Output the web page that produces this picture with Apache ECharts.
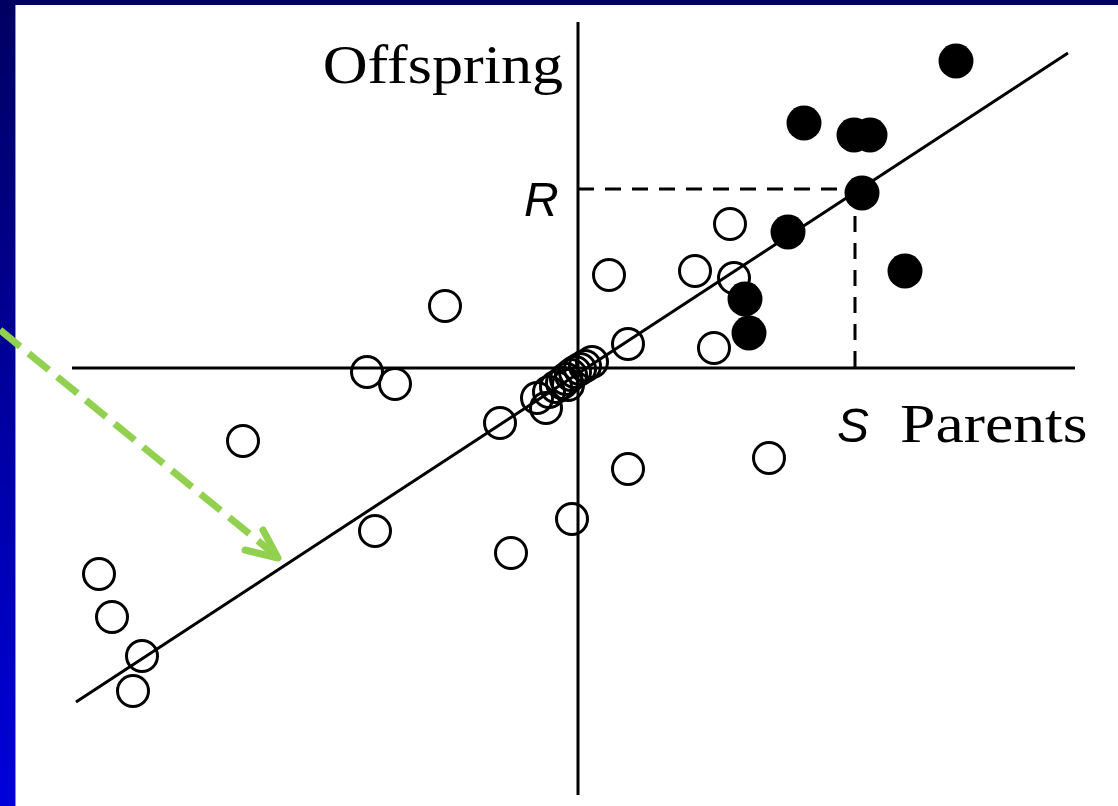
<!DOCTYPE html>
<html>
<head>
<meta charset="utf-8">
<style>
  html, body { margin: 0; padding: 0; background: #fff; }
  #chart { width: 1118px; height: 806px; }
</style>
<script src="https://cdn.jsdelivr.net/npm/echarts@6/dist/echarts.min.js"></script>
</head>
<body>
<div id="chart"></div>
<script>
// data units: origin where the two axes cross
var offspringOpen = [
  [-13.3, 6.2], [-21.1, -0.4], [-18.3, -1.6], [-33.5, -7.3], [-7.8, -5.5],
  [-20.3, -16.3], [-6.7, -18.5], [-0.6, -15.1], [-47.9, -20.6], [-46.6, -24.9],
  [-43.6, -28.8], [-44.5, -32.3], [5.0, -10.1], [19.1, -9.0], [13.6, 2.0],
  [5.0, 2.4], [3.1, 9.3], [11.7, 9.7], [15.6, 9.0], [15.2, 14.4],
  [-4.1, -3.0], [-3.2, -4.0], [-2.9, -2.4], [-2.2, -1.9], [-1.6, -1.5],
  [-1.2, -1.1], [-0.7, -0.7], [-0.3, -0.4], [0.2, -0.1], [0.7, 0.2],
  [1.4, 0.6], [-1.0, -1.7]
];
var offspringSelected = [
  [37.8, 30.7], [22.6, 24.5], [27.6, 23.3], [29.2, 23.3], [28.4, 17.5],
  [21.0, 13.6], [32.7, 9.7], [16.7, 6.9], [17.1, 3.5]
];
var regressionLine = [[-50.2, -33.4], [49.0, 31.5]];
var parentAxis = [[-50.6, 0], [49.7, 0]];
var offspringAxis = [[0, 34.6], [0, -42.7]];
var selS = 27.7;
var respR = 17.9;
var arrowShaft = [[-57.8, 3.8], [-30.4, -18.6]];
var arrowHead = [[-31.5, -16.2], [-30.0, -19.0], [-33.3, -18.2]];

var chart = echarts.init(document.getElementById('chart'));

function seg(data, color, width, type, z) {
  return {
    type: 'line', data: data, symbol: 'none', silent: true, z: z || 2,
    lineStyle: { color: color, width: width, type: type || 'solid', cap: 'butt' }
  };
}

chart.setOption({
  animation: false,
  grid: { left: 0, top: 0, right: 0, bottom: 0 },
  xAxis: { type: 'value', min: -57.8, max: 54.0, show: false },
  yAxis: { type: 'value', min: -43.8, max: 36.8, show: false },
  graphic: [
    { type: 'rect', z: -10, shape: { x: 0, y: 0, width: 1118, height: 806 }, style: { fill: '#ffffff' } },
    { type: 'rect', z: -9, shape: { x: 0, y: 0, width: 1118, height: 5 }, style: { fill: '#000060' } },
    { type: 'rect', z: -9, shape: { x: 0, y: 0, width: 15, height: 806 },
      style: { fill: new echarts.graphic.LinearGradient(0, 0, 0, 1, [
        { offset: 0, color: '#000062' }, { offset: 1, color: '#0000dc' }]) } },
    { type: 'rect', z: -9, shape: { x: 15, y: 5, width: 1, height: 801 }, style: { fill: '#8c8cd8' } },
    { type: 'text', z: 10, x: 563, y: 69, scaleX: 1.15,
      style: { text: 'Offspring', x: 0, y: 0, align: 'right', verticalAlign: 'middle',
        font: '54px "Liberation Serif"', fill: '#000' } },
    { type: 'text', z: 10, style: { text: 'R', x: 524, y: 203, align: 'left', verticalAlign: 'middle',
      font: 'italic 48px "Liberation Sans"', fill: '#000' } },
    { type: 'text', z: 10, style: { text: 'S', x: 837, y: 429, align: 'left', verticalAlign: 'middle',
      font: 'italic 48px "Liberation Sans"', fill: '#000' } },
    { type: 'text', z: 10, x: 900, y: 428, scaleX: 1.18,
      style: { text: 'Parents', x: 0, y: 0, align: 'left', verticalAlign: 'middle',
        font: '54px "Liberation Serif"', fill: '#000' } }
  ],
  series: [
    seg(parentAxis, '#000', 3),
    seg(offspringAxis, '#000', 3),
    seg(regressionLine, '#000', 3),
    seg([[0, respR], [selS, respR]], '#000', 3, [16, 11]),
    seg([[selS, respR], [selS, 0]], '#000', 3, [16, 11]),
    {
      type: 'scatter', data: offspringOpen, symbol: 'circle', symbolSize: 31, z: 3, silent: true,
      itemStyle: { color: 'rgba(0,0,0,0)', borderColor: '#000', borderWidth: 3, opacity: 1 }
    },
    {
      type: 'scatter', data: offspringSelected, symbol: 'circle', symbolSize: 35, z: 4, silent: true,
      itemStyle: { color: '#000', opacity: 1 }
    },
    seg(arrowShaft, '#92d050', 7, [26, 11], 6),
    {
      type: 'line', data: arrowHead, symbol: 'none', silent: true, z: 6,
      lineStyle: { color: '#92d050', width: 7, cap: 'round', join: 'round' }
    }
  ]
});
</script>
</body>
</html>
